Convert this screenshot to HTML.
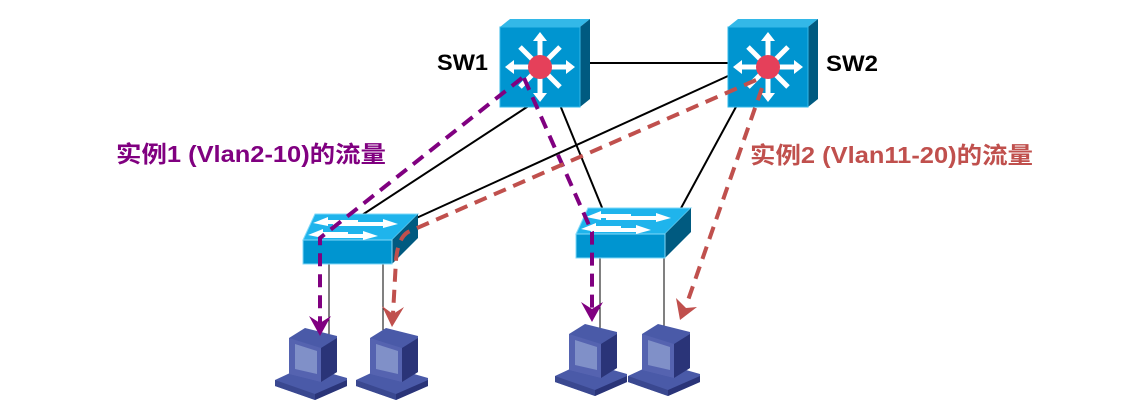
<!DOCTYPE html>
<html><head><meta charset="utf-8"><style>
body{margin:0;background:#fff;width:1144px;height:416px;overflow:hidden}
svg{display:block}
text{font-family:"Liberation Sans","Noto Sans CJK SC",sans-serif;font-weight:bold}
</style></head><body>
<svg width="1144" height="416" viewBox="0 0 1144 416">
<defs>
<g id="sw3">
 <polygon points="0,8 10,0 90,0 80,8" fill="#33b8e8"/>
 <polygon points="80,8 90,0 90,80 80,88" fill="#005a80"/>
 <rect x="0" y="8" width="80" height="80" fill="#0095d0" stroke="#33b8e8" stroke-width="1"/>
 <g stroke="#fff" stroke-width="5" fill="#fff">
  <line x1="40" y1="48" x2="40" y2="20"/><line x1="40" y1="48" x2="40" y2="76"/>
  <line x1="40" y1="48" x2="12" y2="48"/><line x1="40" y1="48" x2="68" y2="48"/>
  <line x1="40" y1="48" x2="20" y2="28"/><line x1="40" y1="48" x2="60" y2="28"/>
  <line x1="40" y1="48" x2="20" y2="68"/><line x1="40" y1="48" x2="60" y2="68"/>
 </g>
 <g fill="#fff">
  <polygon points="40,13 33,22 47,22"/><polygon points="40,83 33,74 47,74"/>
  <polygon points="5,48 14,41 14,55"/><polygon points="75,48 66,41 66,55"/>
 </g>
 <circle cx="40" cy="48" r="12" fill="#e5405a"/>
</g>
<g id="sw2">
 <polygon points="0,26 12,0 115,0 89,26" fill="#1fb4ec" stroke="#7fd8f8"/>
 <polygon points="89,26 115,0 115,24 89,50" fill="#005a80"/>
 <rect x="0" y="26" width="89" height="24" fill="#0095d0" stroke="#7fd8f8"/>
 <g fill="#fff">
  <polygon points="30,8 80,8 80,5 95,10 80,14 80,12 30,12"/>
  <polygon points="15,20 60,20 60,17 75,22 60,26 60,24 15,24"/>
  <polygon points="55,6 25,6 25,3 10,9 25,12 25,10 55,10"/>
  <polygon points="45,18 20,18 20,15 5,21 20,24 20,22 45,22"/>
 </g>
</g>
<g id="pc">
 <polygon points="0,52 30,38 72,50 72,58 40,72 0,58" fill="#4a5aa8"/>
 <polygon points="0,52 40,66 40,72 0,58" fill="#3a4890"/>
 <polygon points="40,66 72,52 72,58 40,72" fill="#2a3478"/>
 <polygon points="14,10 30,0 62,8 62,44 46,54 14,46" fill="#4a5aa8"/>
 <polygon points="14,10 46,20 46,54 14,46" fill="#5563b0"/>
 <polygon points="20,16 42,23 42,46 20,41" fill="#8090c8"/>
 <polygon points="46,20 62,10 62,44 46,54" fill="#2a3478"/>
</g>
</defs>

<g stroke="#000" stroke-width="2" fill="none">
 <line x1="590" y1="63" x2="728" y2="63"/>
 <line x1="530" y1="105" x2="362" y2="215"/>
 <line x1="560" y1="105" x2="603" y2="210"/>
 <line x1="728" y1="76" x2="412" y2="220"/>
 <line x1="737" y1="105" x2="680" y2="210"/>
</g>
<g stroke="#000" stroke-width="1">
 <line x1="329" y1="263" x2="329" y2="335"/>
 <line x1="383" y1="263" x2="383" y2="333"/>
 <line x1="600" y1="257" x2="600" y2="330"/>
 <line x1="664" y1="257" x2="664" y2="328"/>
</g>

<use href="#sw3" x="500" y="19"/>
<use href="#sw3" x="728" y="19"/>
<use href="#sw2" x="303" y="214"/>
<use href="#sw2" x="576" y="208"/>

<use href="#pc" x="275" y="328"/>
<use href="#pc" x="356" y="328"/>
<use href="#pc" x="555" y="324"/>
<use href="#pc" x="628" y="324"/>

<g stroke="#800080" stroke-width="4" fill="none" stroke-dasharray="13,8">
 <path d="M522,78 L320,238 L320,326"/>
 <path d="M524,78 L592,232 L592,312"/>
</g>
<g fill="#800080">
 <path d="M309,316 L320,336 L331,316 L320,323 Z"/>
 <path d="M581,302 L592,322 L603,302 L592,309 Z"/>
</g>
<g stroke="#c0504d" stroke-width="4" fill="none" stroke-dasharray="13,8">
 <path d="M756,80 L408,232 Q398,238 396,260 L393,314"/>
 <path d="M762,88 L686,306"/>
</g>
<g fill="#c0504d">
 <path d="M382,306 L392,327 L404,307 L393,314 Z"/>
 <path d="M676,298 L680,320 L697,307 L686,308 Z"/>
</g>

<text x="437" y="70" font-size="22" textLength="51" lengthAdjust="spacingAndGlyphs" fill="#000">SW1</text>
<text x="826" y="71" font-size="22" textLength="52" lengthAdjust="spacingAndGlyphs" fill="#000">SW2</text>
<text x="116" y="162" font-size="23" textLength="270" lengthAdjust="spacingAndGlyphs" fill="#800080">实例1 (Vlan2-10)的流量</text>
<text x="750" y="163" font-size="23" textLength="283" lengthAdjust="spacingAndGlyphs" fill="#c0504d">实例2 (Vlan11-20)的流量</text>
</svg>
</body></html>
